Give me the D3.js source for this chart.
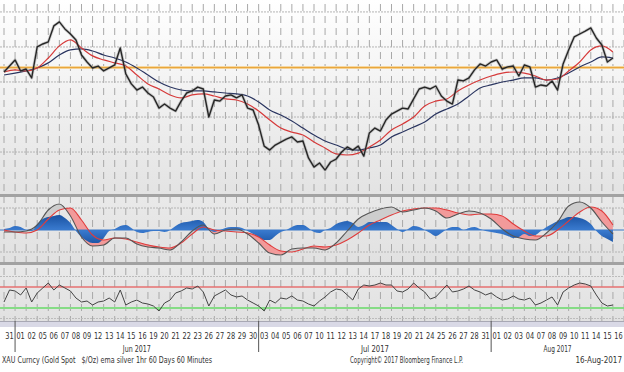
<!DOCTYPE html>
<html><head><meta charset="utf-8">
<script src="https://cdn.jsdelivr.net/npm/d3@7"></script>
<style>
html,body{margin:0;padding:0;background:#fff;}
svg{display:block;}
text{font-family:"Liberation Sans Narrow","DejaVu Sans Condensed","Liberation Sans",sans-serif;fill:#333;white-space:pre;}
</style></head><body>
<svg id="chart" width="624" height="372"></svg>
<script>
// ---------- DATA ----------
const dayLabels = ["31","01","02","05","06","07","08","09","12","13","14","15","16","19","20","21","22","23","26","27","28","29","30",
  "03","04","05","06","07","10","11","12","13","14","17","18","19","20","21","24","25","26","27","28","31",
  "01","02","03","04","07","08","09","10","11","14","15","16"];
const monthLabels = ["Jun 2017","Jul 2017","Aug 2017"];
const monthFirstDay = [1,23,44];
const monthLastDay = [22,43,55];

// price, sampled every half trading day
const price = [1265.7,1269.1,1272.6,1266.3,1267.4,1262.3,1280.0,1281.7,1282.9,1292.0,
1294.3,1290.3,1287.4,1284.0,1275.4,1271.4,1268.0,1269.1,1266.3,1268.0,
1269.7,1279.4,1264.6,1258.9,1255.4,1257.1,1253.7,1251.4,1245.1,1247.4,
1245.1,1243.4,1249.1,1253.7,1254.9,1257.1,1256.0,1240.0,1249.7,1249.1,
1252.0,1252.6,1250.9,1252.6,1245.1,1244.0,1235.4,1223.4,1221.1,1224.0,
1225.7,1227.4,1228.6,1225.7,1226.3,1216.6,1211.4,1213.7,1209.7,1214.3,
1216.0,1220.0,1222.9,1221.1,1223.4,1217.7,1230.9,1233.7,1232.0,1238.3,
1241.7,1243.4,1245.1,1244.6,1250.3,1256.0,1257.1,1256.0,1257.7,1252.0,
1249.1,1247.4,1261.1,1260.6,1262.3,1266.9,1270.3,1269.1,1271.4,1272.6,
1267.4,1268.6,1269.1,1263.4,1269.7,1268.6,1257.1,1258.3,1257.7,1260.6,
1255.4,1270.3,1278.3,1285.7,1287.4,1289.1,1290.9,1285.1,1281.1,1271.4,
1273.7];
// moving averages, sampled every trading day
const emaFast = [1265.7,1266.9,1266.3,1268.0,1273.7,1280.6,1284.0,1279.4,1274.9,1272.6,
1270.9,1269.1,1264.0,1258.9,1256.0,1252.6,1250.9,1252.6,1253.2,1252.0,
1250.3,1249.7,1247.4,1243.4,1238.3,1233.7,1231.4,1229.7,1225.7,1222.3,
1218.9,1218.3,1219.4,1222.9,1226.9,1232.6,1236.0,1240.0,1246.3,1249.1,
1250.3,1254.9,1258.3,1261.1,1263.4,1265.1,1265.7,1265.1,1263.4,1261.1,
1261.7,1266.3,1271.4,1278.3,1280.6,1277.1];
const emaSlow = [1264.0,1265.1,1266.3,1268.0,1270.9,1275.4,1278.3,1278.9,1277.7,1275.4,
1273.7,1271.4,1268.0,1264.0,1260.0,1257.1,1255.4,1254.9,1254.9,1254.3,
1253.7,1253.2,1252.0,1248.6,1244.0,1241.1,1237.7,1233.7,1229.7,1226.3,
1224.0,1221.7,1221.1,1222.3,1224.0,1228.6,1231.4,1234.3,1237.1,1241.7,
1244.6,1247.4,1252.0,1256.6,1258.3,1260.0,1261.1,1262.3,1262.3,1261.1,
1262.3,1265.1,1268.6,1271.4,1274.3,1273.7];
const refLevel = 1268.2;
const priceGrid = [1220,1240,1260,1280,1300];

// MACD panel (daily) and histogram (half-day)
const macd = [-0.5,-0.5,-0.25,1.25,5,6.5,3.5,-1.75,-4,-3.75,
-2,-2,-3.5,-4.25,-4.5,-5,-3,-0.25,1.25,-1,
0,0.25,-1,-3.25,-5.75,-6.25,-4.75,-4.5,-4.5,-5,
-3.25,-0.25,2.75,4.25,5.25,5.75,4.5,5,5.5,4.75,
3,4,4.75,4.25,2.75,0.25,-1.5,-2.25,-2.5,-0.75,
2,6,7,5.5,2,-1];
const signal = [0,-0.5,-0.75,0,2.75,5,5.5,2.5,-1.25,-2.5,
-2,-2.25,-3,-3.75,-4.25,-4.5,-3.25,-1,0.75,0,
-0.25,-0.5,-0.75,-1.75,-3.75,-5.25,-5.5,-4.75,-4,-4.25,
-3.75,-2.5,-0.75,1.25,2.5,3.75,4.75,5.25,5.5,5.5,
5,4.25,3.75,4,4,3.5,1.5,-0.25,-1.5,-1.5,
0,2.25,4.5,5.75,4.75,1.25];
const hist = [0.25,0.5,1,0.75,0,-0.25,1.5,2.75,3.25,3.5,
3.75,3,1.75,-0.25,-1.75,-2.75,-3.25,-3.25,-2,-0.25,
0.25,1,1.25,0.5,-0.5,-0.75,-0.5,-0.25,-0.25,-0.5,
0,1,1.75,2,2.25,2.5,2,0.25,-0.5,0,
0.5,0.75,0.75,0.5,-0.25,-1,-1.75,-2.5,-2.5,-1.5,
-0.5,0,0.75,1.25,1.25,0.5,-0.5,-0.75,0,0.5,
1.5,2,2.25,1.75,0.75,1.25,2,2,2,2,
1.25,0.25,-0.5,0.25,1,0.75,0,-0.75,-1.5,-0.75,
0.25,0.75,0.75,0,0.5,0.75,0.25,-0.25,-0.5,-0.75,
-1,-1.5,-2,-1.75,-1,-1.5,-1.25,-0.25,0.75,1.5,
2.25,2.75,3.25,3.25,3,2.5,1.5,-0.25,-1.5,-2.25,
-3];
const macdGrid = [-5.5,5.5];

// RSI (half-day)
const rsi = [41.4,64.3,62.4,54.8,68.1,41.4,58.6,68.1,77.6,64.3,
73.8,68.1,62.4,49.0,41.4,43.3,35.7,41.4,43.3,49.0,
41.4,64.3,35.7,41.4,45.2,39.5,37.6,33.8,24.3,39.5,
45.2,58.6,62.4,68.1,66.2,71.9,60.5,33.8,52.9,58.6,
64.3,54.8,51.0,52.9,45.2,39.5,33.8,24.3,45.2,39.5,
49.0,47.1,52.9,45.2,43.3,37.6,33.8,43.3,51.0,60.5,
66.2,64.3,54.8,45.2,66.2,73.8,71.9,73.8,77.6,73.8,
73.8,62.4,60.5,66.2,77.6,68.1,60.5,47.1,51.0,62.4,
73.8,60.5,62.4,66.2,71.9,64.3,60.5,54.8,58.6,51.0,
45.2,47.1,52.9,47.1,45.2,49.0,35.7,39.5,45.2,51.0,
35.7,60.5,68.1,73.8,77.6,75.7,71.9,54.8,39.5,33.8,
35.7];
const rsiUpper = 70, rsiLower = 30;
const rsiGrid = [10,90];

const footerLeft = "XAU Curncy (Gold Spot   $/Oz) ema silver 1hr 60 Days 60 Minutes";
const footerMid = "Copyright\u00A9 2017 Bloomberg Finance L.P.";
const footerRight = "16-Aug-2017";

// ---------- LAYOUT ----------
const W = 624;
const P1 = {top:3, bottom:194};
const P2 = {top:197, bottom:262};
const P3 = {top:265, bottom:321};
const x = d3.scaleLinear().domain([-0.5, 55.5]).range([4, 624]);
const yP = d3.scaleLinear().domain([1196.6, 1305.1]).range([193, 3]);
const yM = d3.scaleLinear().domain([-8, 8.25]).range([262, 197]);
const yR = d3.scaleLinear().domain([0, 100]).range([323.75, 271.25]);
const tHalf = i => -0.5 + 0.5*i;
const tDay = i => -0.5 + i;

const svg = d3.select("#chart");
const defs = svg.append("defs");
const g1 = defs.append("linearGradient").attr("id","bgTop").attr("x1",0).attr("x2",0).attr("y1",0).attr("y2",1);
g1.append("stop").attr("offset","0%").attr("stop-color","#ffffff");
g1.append("stop").attr("offset","100%").attr("stop-color","#e3e3e3");
const g2 = defs.append("linearGradient").attr("id","bgMid").attr("x1",0).attr("x2",0).attr("y1",0).attr("y2",1);
g2.append("stop").attr("offset","0%").attr("stop-color","#e9e9e9");
g2.append("stop").attr("offset","100%").attr("stop-color","#e1e1e1");

svg.append("rect").attr("x",0).attr("y",0).attr("width",W).attr("height",P1.bottom).attr("fill","url(#bgTop)");
svg.append("rect").attr("x",0).attr("y",P2.top).attr("width",W).attr("height",P2.bottom-P2.top).attr("fill","url(#bgMid)");
svg.append("rect").attr("x",0).attr("y",P3.top).attr("width",W).attr("height",P3.bottom-P3.top).attr("fill","url(#bgMid)");

// vertical dashed day gridlines
const grid = svg.append("g");
d3.range(0, 57).forEach(b => {
  grid.append("line").attr("x1", x(b-0.5)).attr("x2", x(b-0.5)).attr("y1", 4).attr("y2", P3.bottom)
    .attr("stroke","#a8a8a8").attr("stroke-width",1).attr("stroke-dasharray","7,5");
});
// horizontal gridlines
priceGrid.forEach(v => grid.append("line").attr("x1",0).attr("x2",W).attr("y1",yP(v)).attr("y2",yP(v))
  .attr("stroke","#b4b4b4").attr("stroke-dasharray","2,1"));
macdGrid.forEach(v => grid.append("line").attr("x1",0).attr("x2",W).attr("y1",yM(v)).attr("y2",yM(v))
  .attr("stroke","#b4b4b4").attr("stroke-dasharray","2,1"));
rsiGrid.forEach(v => grid.append("line").attr("x1",0).attr("x2",W).attr("y1",yR(v)).attr("y2",yR(v))
  .attr("stroke","#bcbcbc").attr("stroke-dasharray","2,1"));

// separator bars
[[P1.bottom, P2.top],[P2.bottom, P3.top]].forEach(([a,b]) => {
  svg.append("rect").attr("x",0).attr("y",a).attr("width",W).attr("height",b-a).attr("fill","#a2a2a2");
});

// ---------- TOP PANEL ----------
svg.append("line").attr("x1",0).attr("x2",W).attr("y1",yP(refLevel)).attr("y2",yP(refLevel))
  .attr("stroke","#f5d7a0").attr("stroke-width",3);
svg.append("line").attr("x1",0).attr("x2",W).attr("y1",yP(refLevel)).attr("y2",yP(refLevel))
  .attr("stroke","#e8a030").attr("stroke-width",1);

const lineDay = d3.line().x((d,i)=>x(tDay(i))).curve(d3.curveMonotoneX);
svg.append("path").attr("d", lineDay.y(d=>yP(d))(emaSlow)).attr("fill","none").attr("stroke","#2a3560").attr("stroke-width",1.2);
svg.append("path").attr("d", lineDay.y(d=>yP(d))(emaFast)).attr("fill","none").attr("stroke","#d63a3a").attr("stroke-width",1.2);

const lineHalf = d3.line().x((d,i)=>x(tHalf(i)));
svg.append("path").attr("d", lineHalf.y(d=>yP(d))(price)).attr("fill","none").attr("stroke","#777").attr("stroke-opacity",0.35).attr("stroke-width",3).attr("stroke-linejoin","round");
svg.append("path").attr("d", lineHalf.y(d=>yP(d))(price)).attr("fill","none").attr("stroke","#262626").attr("stroke-width",1.4).attr("stroke-linejoin","round");

// ---------- MACD PANEL ----------
const curveM = d3.curveMonotoneX;
const areaTo = (base, arr) => d3.area().x((d,i)=>x(tDay(i))).y0(base).y1(d=>yM(d)).curve(curveM)(arr);
defs.append("clipPath").attr("id","aboveSig").append("path").attr("d", areaTo(P2.top, signal));
defs.append("clipPath").attr("id","aboveMacd").append("path").attr("d", areaTo(P2.top, macd));
svg.append("path").attr("d", areaTo(P2.bottom, macd)).attr("clip-path","url(#aboveSig)").attr("fill","#cdcdcd");
svg.append("path").attr("d", areaTo(P2.bottom, signal)).attr("clip-path","url(#aboveMacd)").attr("fill","#f29a9a");

const gH = defs.append("linearGradient").attr("id","histG").attr("gradientUnits","userSpaceOnUse")
  .attr("x1",0).attr("x2",0).attr("y1",yM(4)).attr("y2",yM(-4));
gH.append("stop").attr("offset","0%").attr("stop-color","#174f9e");
gH.append("stop").attr("offset","50%").attr("stop-color","#3a7bd0");
gH.append("stop").attr("offset","100%").attr("stop-color","#174f9e");
svg.append("path").attr("d", d3.area().x((d,i)=>x(tHalf(i))).y0(yM(0)).y1(d=>yM(d)).curve(curveM)(hist))
  .attr("fill","url(#histG)");
svg.append("line").attr("x1",0).attr("x2",W).attr("y1",yM(0)).attr("y2",yM(0)).attr("stroke","#3b78c8").attr("stroke-width",1);

const lineM = d3.line().x((d,i)=>x(tDay(i))).y(d=>yM(d)).curve(curveM);
svg.append("path").attr("d", lineM(signal)).attr("fill","none").attr("stroke","#e03c3c").attr("stroke-width",1.1);
svg.append("path").attr("d", lineM(macd)).attr("fill","none").attr("stroke","#555").attr("stroke-width",1.1);

// ---------- RSI PANEL ----------
defs.append("clipPath").attr("id","belowLow").append("rect").attr("x",0).attr("width",W).attr("y",yR(rsiLower)).attr("height",40);
defs.append("clipPath").attr("id","aboveUp").append("rect").attr("x",0).attr("width",W).attr("y",P3.top).attr("height",yR(rsiUpper)-P3.top);
const areaR = d3.area().x((d,i)=>x(tHalf(i))).y1(d=>yR(d));
svg.append("path").attr("d", areaR.y0(yR(rsiLower))(rsi)).attr("clip-path","url(#belowLow)").attr("fill","#6ccf6c");
svg.append("path").attr("d", areaR.y0(yR(rsiUpper))(rsi)).attr("clip-path","url(#aboveUp)").attr("fill","#f2a0a0").attr("opacity",0.6);
svg.append("line").attr("x1",0).attr("x2",W).attr("y1",yR(rsiUpper)).attr("y2",yR(rsiUpper)).attr("stroke","#e67070").attr("stroke-width",1.6);
svg.append("line").attr("x1",0).attr("x2",W).attr("y1",yR(rsiLower)).attr("y2",yR(rsiLower)).attr("stroke","#86dc86").attr("stroke-width",2.2);
svg.append("path").attr("d", d3.line().x((d,i)=>x(tHalf(i))).y(d=>yR(d))(rsi)).attr("fill","none").attr("stroke","#444").attr("stroke-width",1);

// ---------- X AXIS ----------
svg.append("rect").attr("x",0).attr("y",P3.bottom).attr("width",W).attr("height",6).attr("fill","#d9d9e6");
svg.append("line").attr("x1",0).attr("x2",W).attr("y1",P3.bottom+0.5).attr("y2",P3.bottom+0.5).attr("stroke","#a8a8b4");
const ax = svg.append("g");
dayLabels.forEach((lab,i) => {
  ax.append("text").attr("x", x(i)).attr("y", 339).attr("text-anchor","middle").attr("font-size","9px")
    .attr("textLength",8.4).attr("lengthAdjust","spacingAndGlyphs").text(lab);
});
monthFirstDay.forEach((f,m) => {
  const x0 = x(f-0.5), x1 = Math.min(x(monthLastDay[m]+0.5), W);
  ax.append("line").attr("x1",x0).attr("x2",x0).attr("y1",P3.bottom).attr("y2",352).attr("stroke","#555").attr("stroke-width",1);
  ax.append("text").attr("x",(x0+x1)/2).attr("y",352).attr("text-anchor","middle").attr("font-size","9px")
    .attr("textLength",28).attr("lengthAdjust","spacingAndGlyphs").text(monthLabels[m]);
});

// footer
svg.append("text").attr("x",2).attr("y",363).attr("font-size","8px").attr("textLength",210).attr("lengthAdjust","spacingAndGlyphs").text(footerLeft);
svg.append("text").attr("x",350).attr("y",363).attr("font-size","8px").attr("textLength",113).attr("lengthAdjust","spacingAndGlyphs").text(footerMid);
svg.append("text").attr("x",622).attr("y",363).attr("text-anchor","end").attr("font-size","8px").text(footerRight);
</script>
</body></html>
